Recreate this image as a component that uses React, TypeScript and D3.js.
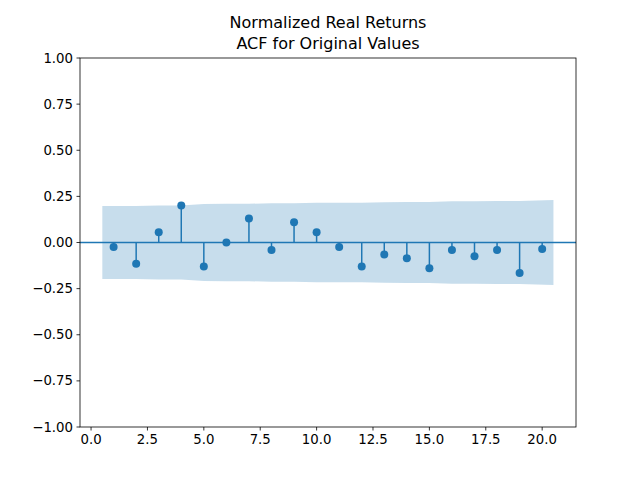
import * as d3 from 'd3';

const lags = d3.range(1, 21);
const acf = [-0.025, -0.115, 0.055, 0.2, -0.13, 0.0, 0.13, -0.04, 0.11, 0.055, -0.025, -0.13, -0.065, -0.085, -0.14, -0.04, -0.075, -0.04, -0.165, -0.035];
const conf = [0.198, 0.198, 0.2, 0.2, 0.208, 0.21, 0.21, 0.213, 0.213, 0.215, 0.215, 0.215, 0.218, 0.219, 0.22, 0.223, 0.224, 0.225, 0.225, 0.23];
const xTicks = [0, 2.5, 5, 7.5, 10, 12.5, 15, 17.5, 20];
const yTicks = [-1, -0.75, -0.5, -0.25, 0, 0.25, 0.5, 0.75, 1];

const W = 640, H = 480;
const L = 80, R = 576, T = 58, B = 427;
const C = '#1f77b4';

export default function App() {
  const x = d3.scaleLinear().domain([-0.49, 21.5]).range([L, R]);
  const y = d3.scaleLinear().domain([-1, 1]).range([B, T]);
  const bandX = lags.map((l, i) => (i === 0 ? l - 0.5 : i === lags.length - 1 ? l + 0.5 : l));
  const area = d3.area<number>()
    .x((_, i) => x(bandX[i]))
    .y0((d) => y(-d))
    .y1((d) => y(d));
  const font = 'DejaVu Sans, sans-serif';
  return (
    <svg width={W} height={H} style={{ position: 'absolute', left: 0, top: 0 }} fontFamily={font}>
      <rect width={W} height={H} fill="#fff" />
      <path d={area(conf) || ''} fill={C} fillOpacity={0.25} />
      <line x1={L} x2={R} y1={y(0)} y2={y(0)} stroke={C} strokeWidth={1.5} />
      {lags.map((l, i) => (
        <g key={l}>
          <line x1={x(l)} x2={x(l)} y1={y(0)} y2={y(acf[i])} stroke={C} strokeWidth={1.5} />
          <circle cx={x(l)} cy={y(acf[i])} r={4} fill={C} />
        </g>
      ))}
      <rect x={L} y={T} width={R - L} height={B - T} fill="none" stroke="#000" strokeWidth={0.8} />
      {xTicks.map((t) => (
        <g key={t}>
          <line x1={x(t)} x2={x(t)} y1={B} y2={B + 3.5} stroke="#000" strokeWidth={0.8} />
          <text x={x(t)} y={B + 17} fontSize={13.3} textAnchor="middle">{t.toFixed(1)}</text>
        </g>
      ))}
      {yTicks.map((t) => (
        <g key={t}>
          <line x1={L - 3.5} x2={L} y1={y(t)} y2={y(t)} stroke="#000" strokeWidth={0.8} />
          <text x={L - 7} y={y(t) + 4.5} fontSize={13.3} textAnchor="end">{t.toFixed(2).replace('-', '\u2212')}</text>
        </g>
      ))}
      <text x={(L + R) / 2} y={28} fontSize={16} textAnchor="middle">Normalized Real Returns</text>
      <text x={(L + R) / 2} y={49} fontSize={16} textAnchor="middle">ACF for Original Values</text>
    </svg>
  );
}
